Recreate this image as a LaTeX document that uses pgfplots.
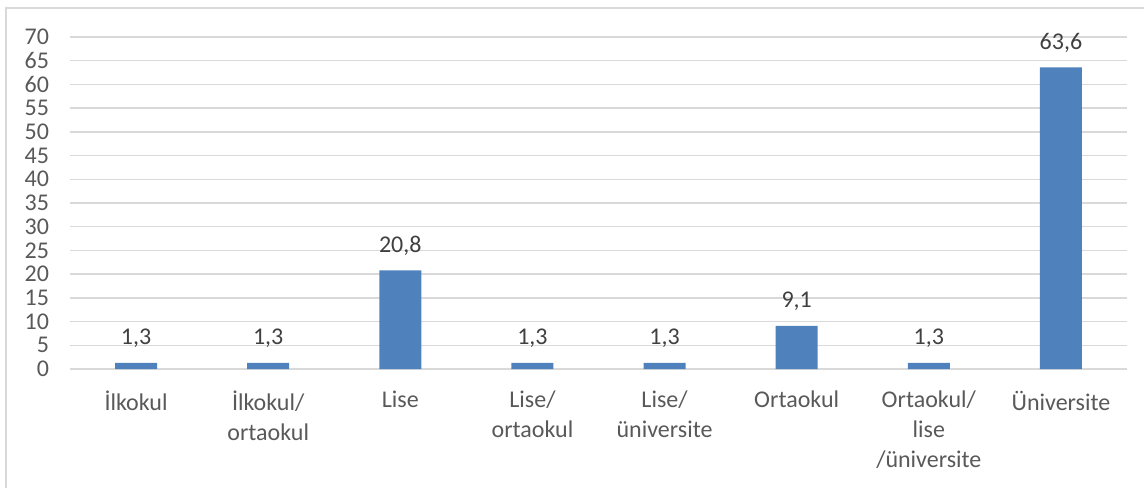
\documentclass[border=0pt]{standalone}
\usepackage{fontspec}
\setmainfont{Carlito}
\usepackage{pgfplots}
\pgfplotsset{compat=1.18}
\definecolor{barblue}{HTML}{4F81BD}
\definecolor{gridgray}{HTML}{D9D9D9}
\definecolor{txtgray}{HTML}{595959}
\definecolor{lblgray}{HTML}{404040}
\begin{document}
\begin{tikzpicture}[x=1pt,y=1pt]
\begin{axis}[
  at={(35pt,59pt)}, anchor=south west,
  scale only axis, width=528.5pt, height=166pt,
  xmin=-0.5, xmax=7.5, ymin=0, ymax=70,
  ytick={0,5,...,70},
  xtick={0,...,7},
  xticklabels={İlkokul, {İlkokul/\\ortaokul}, Lise, {Lise/\\ortaokul}, {Lise/\\üniversite}, Ortaokul, {Ortaokul/\\lise\\/üniversite}, Üniversite},
  ymajorgrids, grid style={gridgray, line width=0.75pt},
  axis line style={draw=none},
  major tick length=0pt,
  /pgf/number format/assume math mode=true,
  tick label style={font=\fontsize{12}{15}\selectfont, text=txtgray},
  yticklabel style={xshift=-7pt},
  xticklabel style={align=center, yshift=-7.5pt},
  ybar, bar width=21pt,
  point meta=explicit symbolic,
  nodes near coords,
  nodes near coords style={font=\fontsize{12}{14.5}\selectfont, text=lblgray, anchor=south, yshift=4pt},
]
\addplot[fill=barblue, draw=none] coordinates {
  (0,1.3) [1,3]
  (1,1.3) [1,3]
  (2,20.8) [20,8]
  (3,1.3) [1,3]
  (4,1.3) [1,3]
  (5,9.1) [9,1]
  (6,1.3) [1,3]
  (7,63.6) [63,6]
};
\end{axis}
\draw[gridgray, line width=0.75pt] (3,-30) rectangle (620,239.5);
\pgfresetboundingbox
\path (0,0) rectangle (572,243.5);
\end{tikzpicture}
\end{document}
